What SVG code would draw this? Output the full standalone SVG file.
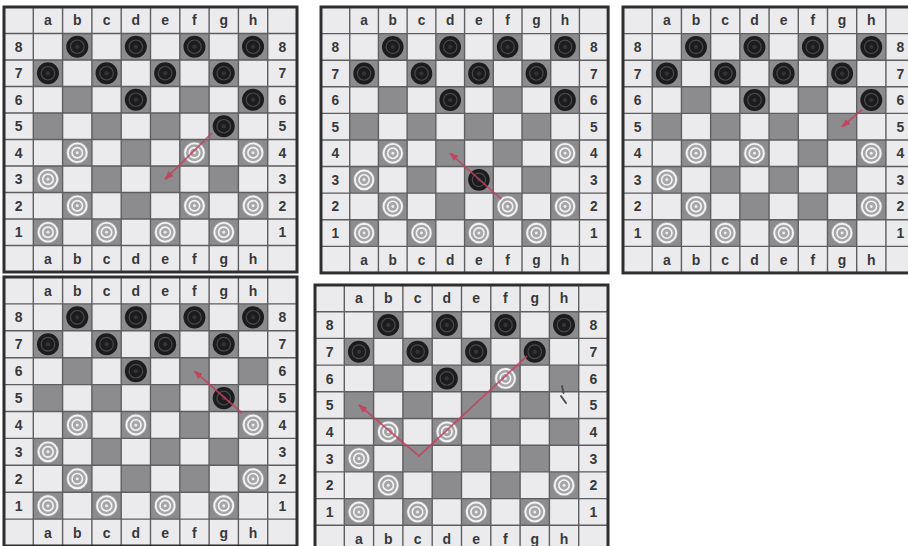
<svg xmlns="http://www.w3.org/2000/svg" xmlns:xlink="http://www.w3.org/1999/xlink" width="908" height="546" viewBox="0 0 908 546">
<style>
.bg{fill:#ebebee}
.dk{fill:#8c8c8e}
.gl{stroke:#5e5e60;stroke-width:1.4;fill:none}
.fr{stroke:#2e2e30;stroke-width:3;fill:none}
.lb{font-family:"Liberation Sans",Arial,sans-serif;font-weight:bold;font-size:14px;fill:#38383a;text-anchor:middle}
.arr{stroke:#c4405c;stroke-width:1.8;fill:none;stroke-opacity:0.8;marker-end:url(#ah)}
</style>
<defs>
<marker id="ah" markerUnits="userSpaceOnUse" markerWidth="9" markerHeight="7" refX="8" refY="3.5" orient="auto">
<path d="M0,0 L9,3.5 L0,7 z" fill="#c4405c" fill-opacity="0.9"/>
</marker>
<g id="bp">
<circle r="11" fill="#1c1c1e"/>
<circle r="6.8" fill="none" stroke="#4a4a4c" stroke-width="1.2"/>
<circle r="2.2" fill="#333"/>
</g>
<g id="wp">
<circle r="11" fill="#a6a6a8"/>
<circle r="9.4" fill="none" stroke="#f4f4f6" stroke-width="1.9"/>
<circle r="5.2" fill="none" stroke="#f4f4f6" stroke-width="1.6"/>
<circle r="1.5" fill="#eeeeee"/>
</g>
<g id="board">
<rect class="bg" x="0" y="0" width="293" height="267"/>
<g class="dk">
<rect x="58.6" y="26.7" width="29.3" height="26.7"/><rect x="117.2" y="26.7" width="29.3" height="26.7"/><rect x="175.8" y="26.7" width="29.3" height="26.7"/><rect x="234.4" y="26.7" width="29.3" height="26.7"/>
<rect x="29.3" y="53.4" width="29.3" height="26.7"/><rect x="87.9" y="53.4" width="29.3" height="26.7"/><rect x="146.5" y="53.4" width="29.3" height="26.7"/><rect x="205.1" y="53.4" width="29.3" height="26.7"/>
<rect x="58.6" y="80.1" width="29.3" height="26.7"/><rect x="117.2" y="80.1" width="29.3" height="26.7"/><rect x="175.8" y="80.1" width="29.3" height="26.7"/><rect x="234.4" y="80.1" width="29.3" height="26.7"/>
<rect x="29.3" y="106.8" width="29.3" height="26.7"/><rect x="87.9" y="106.8" width="29.3" height="26.7"/><rect x="146.5" y="106.8" width="29.3" height="26.7"/><rect x="205.1" y="106.8" width="29.3" height="26.7"/>
<rect x="58.6" y="133.5" width="29.3" height="26.7"/><rect x="117.2" y="133.5" width="29.3" height="26.7"/><rect x="175.8" y="133.5" width="29.3" height="26.7"/><rect x="234.4" y="133.5" width="29.3" height="26.7"/>
<rect x="29.3" y="160.2" width="29.3" height="26.7"/><rect x="87.9" y="160.2" width="29.3" height="26.7"/><rect x="146.5" y="160.2" width="29.3" height="26.7"/><rect x="205.1" y="160.2" width="29.3" height="26.7"/>
<rect x="58.6" y="186.9" width="29.3" height="26.7"/><rect x="117.2" y="186.9" width="29.3" height="26.7"/><rect x="175.8" y="186.9" width="29.3" height="26.7"/><rect x="234.4" y="186.9" width="29.3" height="26.7"/>
<rect x="29.3" y="213.6" width="29.3" height="26.7"/><rect x="87.9" y="213.6" width="29.3" height="26.7"/><rect x="146.5" y="213.6" width="29.3" height="26.7"/><rect x="205.1" y="213.6" width="29.3" height="26.7"/>
</g>
<path class="gl" d="M29.3,0V267M58.6,0V267M87.9,0V267M117.2,0V267M146.5,0V267M175.8,0V267M205.1,0V267M234.4,0V267M263.7,0V267M0,26.7H293M0,53.4H293M0,80.1H293M0,106.8H293M0,133.5H293M0,160.2H293M0,186.9H293M0,213.6H293M0,240.3H293"/>
<rect class="fr" x="0" y="0" width="293" height="267"/>
<g class="lb">
<text x="43.95" y="18.4">a</text><text x="73.25" y="18.4">b</text><text x="102.55" y="18.4">c</text><text x="131.85" y="18.4">d</text><text x="161.15" y="18.4">e</text><text x="190.45" y="18.4">f</text><text x="219.75" y="18.4">g</text><text x="249.05" y="18.4">h</text>
<text x="43.95" y="258.7">a</text><text x="73.25" y="258.7">b</text><text x="102.55" y="258.7">c</text><text x="131.85" y="258.7">d</text><text x="161.15" y="258.7">e</text><text x="190.45" y="258.7">f</text><text x="219.75" y="258.7">g</text><text x="249.05" y="258.7">h</text>
<text x="14.65" y="45.1">8</text><text x="14.65" y="71.8">7</text><text x="14.65" y="98.5">6</text><text x="14.65" y="125.2">5</text><text x="14.65" y="151.9">4</text><text x="14.65" y="178.6">3</text><text x="14.65" y="205.3">2</text><text x="14.65" y="232">1</text>
<text x="278.35" y="45.1">8</text><text x="278.35" y="71.8">7</text><text x="278.35" y="98.5">6</text><text x="278.35" y="125.2">5</text><text x="278.35" y="151.9">4</text><text x="278.35" y="178.6">3</text><text x="278.35" y="205.3">2</text><text x="278.35" y="232">1</text>
</g>
</g>
<g id="blk9">
<use href="#bp" x="73.25" y="40.05"/><use href="#bp" x="131.85" y="40.05"/><use href="#bp" x="190.45" y="40.05"/><use href="#bp" x="249.05" y="40.05"/>
<use href="#bp" x="43.95" y="66.75"/><use href="#bp" x="102.55" y="66.75"/><use href="#bp" x="161.15" y="66.75"/><use href="#bp" x="219.75" y="66.75"/>
<use href="#bp" x="131.85" y="93.45"/>
</g>
<g id="wht8">
<use href="#wp" x="73.25" y="146.85"/><use href="#wp" x="43.95" y="173.55"/><use href="#wp" x="73.25" y="200.25"/><use href="#wp" x="249.05" y="200.25"/>
<use href="#wp" x="43.95" y="226.95"/><use href="#wp" x="102.55" y="226.95"/><use href="#wp" x="161.15" y="226.95"/><use href="#wp" x="219.75" y="226.95"/>
</g>
</defs>
<rect x="0" y="0" width="908" height="546" fill="#ffffff"/>

<g id="board1" transform="translate(4,7) scale(1,0.9925)">
<use href="#board"/><use href="#blk9"/><use href="#wht8"/>
<use href="#bp" x="249.05" y="93.45"/><use href="#bp" x="219.75" y="120.15"/>
<use href="#wp" x="190.45" y="146.85"/><use href="#wp" x="249.05" y="146.85"/><use href="#wp" x="190.45" y="200.25"/>
</g>

<g id="board2" transform="translate(321,7) scale(0.98,0.996)">
<use href="#board"/><use href="#blk9"/><use href="#wht8"/>
<use href="#bp" x="249.05" y="93.45"/><use href="#bp" x="161.15" y="173.55"/>
<use href="#wp" x="249.05" y="146.85"/><use href="#wp" x="190.45" y="200.25"/>
</g>

<g id="board3" transform="translate(623,7) scale(0.997,0.996)">
<use href="#board"/><use href="#blk9"/><use href="#wht8"/>
<use href="#bp" x="249.05" y="93.45"/>
<use href="#wp" x="131.85" y="146.85"/><use href="#wp" x="249.05" y="146.85"/>
</g>

<g id="board4" transform="translate(4,277) scale(1,1.0075)">
<use href="#board"/><use href="#blk9"/><use href="#wht8"/>
<use href="#bp" x="219.75" y="120.15"/>
<use href="#wp" x="131.85" y="146.85"/><use href="#wp" x="249.05" y="146.85"/>
</g>

<g id="board5" transform="translate(315,285)">
<use href="#board"/><use href="#blk9"/><use href="#wht8"/>
<use href="#wp" x="190.45" y="93.45"/><use href="#wp" x="131.85" y="146.85"/>
<path d="M247,101 L248.5,108 M246,111 L251,118" stroke="#505052" stroke-width="2" fill="none" stroke-linecap="round"/>
</g>

<g id="connectors">
<path class="arr" d="M212,133 L165.2,179.2"/>
<path class="arr" d="M501.3,199.2 L450.2,153.3"/>
<path class="arr" d="M862.3,109.6 L842.1,126.7"/>
<path class="arr" d="M242,413 L194.5,371.2"/>
<path class="arr" d="M527,356 L419,456 L359,405"/>
</g>
</svg>
